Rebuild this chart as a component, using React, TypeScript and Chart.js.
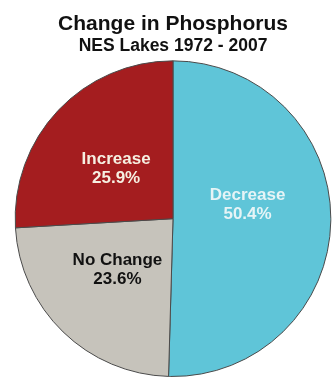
import React, { useEffect, useRef } from "react";
import { Chart, registerables } from "chart.js";

Chart.register(...registerables);

const categories = ["Decrease", "No Change", "Increase"];
const percents = [50.4, 23.6, 25.9];
const sliceColors = ["#5fc5d8", "#c6c3bb", "#a41d1f"];
const labelColors = ["#e6f4f6", "#111111", "#f6f0e2"];
const labelNudgeDeg = [-11, 3, -2];
const titleText = "Change in Phosphorus";
const subtitleText = "NES Lakes 1972 - 2007";

const labelPlugin = {
  id: "sliceLabels",
  afterDatasetsDraw(chart: any) {
    const ctx = chart.ctx;
    const meta = chart.getDatasetMeta(0);
    ctx.save();
    ctx.font = "bold 17px 'Liberation Sans', Arial, sans-serif";
    ctx.textAlign = "center";
    ctx.textBaseline = "middle";
    meta.data.forEach((arc: any, i: number) => {
      const { x, y, startAngle, endAngle, outerRadius } = arc.getProps(
        ["x", "y", "startAngle", "endAngle", "outerRadius"],
        true
      );
      const mid = (startAngle + endAngle) / 2 + (labelNudgeDeg[i] * Math.PI) / 180;
      const r = outerRadius * 0.48;
      const cx = x + Math.cos(mid) * r;
      const cy = y + Math.sin(mid) * r;
      ctx.fillStyle = labelColors[i];
      ctx.fillText(categories[i], cx, cy - 9.5);
      ctx.fillText(percents[i].toFixed(1) + "%", cx, cy + 9.5);
    });
    ctx.restore();
  },
};

export default function App() {
  const ref = useRef<HTMLCanvasElement | null>(null);
  useEffect(() => {
    if (!ref.current) return;
    const chart = new Chart(ref.current, {
      type: "pie",
      data: {
        labels: categories,
        datasets: [
          {
            data: percents,
            backgroundColor: sliceColors,
            borderColor: "#4a4a4a",
            borderWidth: 1,
          },
        ],
      },
      options: {
        animation: false,
        responsive: true,
        maintainAspectRatio: false,
        layout: { padding: { left: 13, right: 0, top: 0, bottom: 2 } },
        plugins: {
          legend: { display: false },
          tooltip: { enabled: false },
          title: {
            display: true,
            text: titleText,
            color: "#111111",
            font: { family: "'Liberation Sans', Arial, sans-serif", size: 21, weight: "bold", lineHeight: 1.1 },
            padding: { top: 13, bottom: 0 },
          },
          subtitle: {
            display: true,
            text: subtitleText,
            color: "#111111",
            font: { family: "'Liberation Sans', Arial, sans-serif", size: 17.5, weight: "bold", lineHeight: 1.1 },
            padding: { top: 0, bottom: 5 },
          },
        },
      },
      plugins: [labelPlugin],
    });
    return () => chart.destroy();
  }, []);
  return (
    <div style={{ position: "fixed", left: 0, top: 0, width: 333, height: 379, background: "#ffffff" }}>
      <canvas ref={ref} />
    </div>
  );
}
